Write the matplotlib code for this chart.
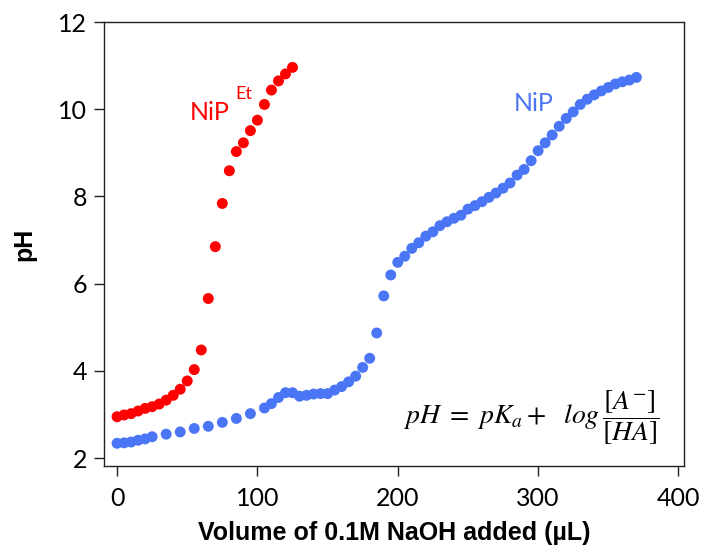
import matplotlib.pyplot as plt
import numpy as np

# titration data
vol_et = [0, 5, 10, 15, 20, 25, 30, 35, 40, 45, 50, 55, 60, 65, 70, 75, 80, 85, 90,
          95, 100, 105, 110, 115, 120, 125]
ph_et = [2.95, 2.99, 3.02, 3.08, 3.14, 3.18, 3.24, 3.33, 3.44, 3.58, 3.77, 4.03, 4.48,
         5.66, 6.85, 7.84, 8.59, 9.03, 9.23, 9.51, 9.75, 10.11, 10.44, 10.65, 10.81, 10.96]

vol_nip = [0, 5, 10, 15, 20, 25, 35, 45, 55, 65, 75, 85, 95, 105, 110, 115, 120, 125,
           130, 135, 140, 145, 150, 155, 160, 165, 170, 175, 180, 185, 190, 195, 200,
           205, 210, 215, 220, 225, 230, 235, 240, 245, 250, 255, 260, 265, 270, 275,
           280, 285, 290, 295, 300, 305, 310, 315, 320, 325, 330, 335, 340, 345, 350,
           355, 360, 365, 370]
ph_nip = [2.34, 2.35, 2.37, 2.41, 2.44, 2.49, 2.55, 2.60, 2.68, 2.73, 2.82, 2.91, 3.02,
          3.15, 3.25, 3.39, 3.50, 3.50, 3.42, 3.44, 3.47, 3.48, 3.48, 3.56, 3.64, 3.75,
          3.88, 4.08, 4.29, 4.87, 5.72, 6.20, 6.49, 6.63, 6.81, 6.94, 7.09, 7.19, 7.33,
          7.42, 7.50, 7.57, 7.71, 7.79, 7.88, 7.98, 8.08, 8.19, 8.31, 8.49, 8.62, 8.82,
          9.05, 9.23, 9.41, 9.61, 9.79, 9.94, 10.11, 10.23, 10.33, 10.42, 10.50, 10.58,
          10.63, 10.67, 10.73]

red = '#ff0000'
blue = '#4a76f5'
tick_font = 'Lato'
label_font = 'Liberation Sans'

plt.rcParams['mathtext.fontset'] = 'stix'

fig = plt.figure(figsize=(7.06, 5.51), dpi=100)
ax = fig.add_axes([0.1473, 0.1543, 0.8217, 0.8057])

ax.scatter(vol_et, ph_et, s=62, color=red, edgecolors='none', zorder=3)
ax.scatter(vol_nip, ph_nip, s=62, color=blue, edgecolors='none', zorder=3)

ax.set_xlim(-9.3, 404)
ax.set_ylim(1.82, 12.0)
ax.set_xticks([0, 100, 200, 300, 400])
ax.set_yticks([2, 4, 6, 8, 10, 12])

for sp in ax.spines.values():
    sp.set_linewidth(1.0)
    sp.set_color('#222222')

ax.tick_params(axis='both', direction='out', length=7, width=1.0, color='#222222',
               labelsize=18)
ax.tick_params(axis='y', pad=5)
ax.tick_params(axis='x', pad=8)
for lab in ax.get_xticklabels() + ax.get_yticklabels():
    lab.set_fontfamily(tick_font)

ax.set_xlabel('Volume of 0.1M NaOH added (µL)', fontsize=18, fontweight='bold',
              family=label_font, labelpad=8)
ax.set_ylabel('pH', fontsize=18, fontweight='bold', family=label_font, labelpad=16)

ax.text(52, 9.93, 'NiP', color=red, fontsize=18, family=tick_font, va='center')
ax.text(84, 10.36, 'Et', color=red, fontsize=13, family=tick_font, va='center')
ax.text(297, 10.14, 'NiP', color=blue, fontsize=18, family=tick_font,
        ha='center', va='center')

ax.text(295, 2.92, r'$pH\ =\ pK_a +\ \ log\,\dfrac{[A^{-}]}{[HA]}$', fontsize=20,
        ha='center', va='center', color='black')

fig.savefig('out.png', dpi=100)
